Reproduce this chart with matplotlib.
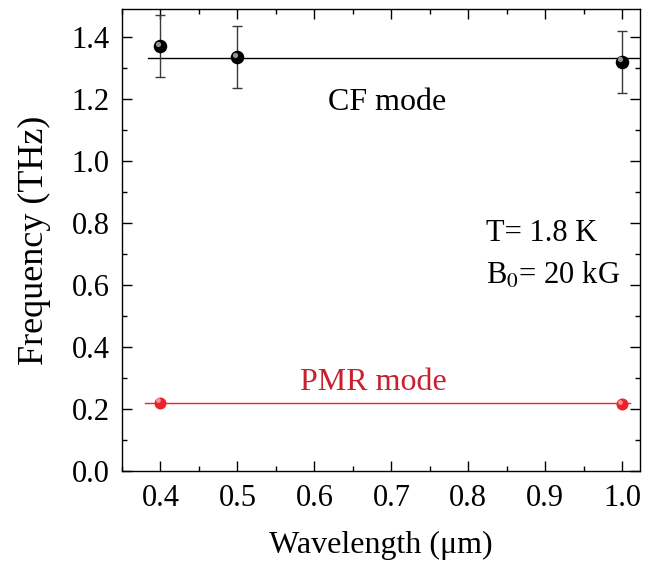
import matplotlib; matplotlib.use('agg'); import matplotlib.pyplot as plt
from matplotlib.ticker import MultipleLocator

plt.rcParams['font.family'] = ['Liberation Serif', 'DejaVu Serif']
plt.rcParams['mathtext.fontset'] = 'stix'

cf_x = [0.4, 0.5, 1.0]
cf_y = [1.37, 1.335, 1.32]
cf_err = [0.1, 0.1, 0.1]
cf_fit = 1.333

pmr_x = [0.4, 1.0]
pmr_y = [0.22, 0.215]
pmr_fit = 0.218

fig = plt.figure(figsize=(6.54, 5.62), dpi=100)
ax = fig.add_axes([122/654, 91/562, 518/654, 462/562])

ax.plot([0.384, 1.03], [cf_fit, cf_fit], '-', color='black', lw=1.0, zorder=1)
ax.plot([0.38, 1.01], [pmr_fit, pmr_fit], '-', color='#e8242c', lw=1.0, zorder=1)

ax.errorbar(cf_x, cf_y, yerr=cf_err, fmt='none', ecolor='#3a3a3a', elinewidth=1.0, capsize=3.5, capthick=1.0, zorder=2)

def spheres(x, y, dark, light, size):
    ax.scatter(x, y, s=size, color=dark, zorder=3, linewidths=0)
    xs = [v - 0.003 for v in x]
    ys = [v + 0.008 for v in y]
    ax.scatter(xs, ys, s=size*0.15, color=light, zorder=4, linewidths=0, alpha=0.8)

spheres(cf_x, cf_y, 'black', '#bbbbbb', 95)
spheres(pmr_x, pmr_y, '#e8242c', '#ffb0b0', 75)

ax.set_xlim(0.35, 1.023)
ax.set_ylim(0, 1.49)
ax.xaxis.set_major_locator(MultipleLocator(0.1))
ax.xaxis.set_minor_locator(MultipleLocator(0.05))
ax.yaxis.set_major_locator(MultipleLocator(0.2))
ax.yaxis.set_minor_locator(MultipleLocator(0.1))
ax.tick_params(which='both', direction='in', top=True, right=True, labelsize=22, width=1.0)
ax.tick_params(which='major', length=7, pad=9)
ax.tick_params(which='minor', length=3.5)
ax.set_xticks([0.4, 0.5, 0.6, 0.7, 0.8, 0.9, 1.0])
ax.set_xticklabels(['0.4', '0.5', '0.6', '0.7', '0.8', '0.9', '1.0'])
for sp in ax.spines.values():
    sp.set_linewidth(1.0)

ax.set_xlabel('Wavelength (\u03bcm)', fontsize=23, labelpad=13)
ax.set_ylabel('Frequency (THz)', fontsize=26, labelpad=15)

ax.text(0.694, 1.187, 'CF mode', fontsize=23, ha='center', va='center')
ax.text(0.677, 0.287, 'PMR mode', fontsize=23, ha='center', va='center', color='#c8202e')
ax.text(0.823, 0.765, 'T= 1.8 K', fontsize=22, ha='left', va='center')
ax.text(0.823, 0.63, 'B$_0$= 20 kG', fontsize=22, ha='left', va='center')

fig.savefig('out.png', dpi=100)
plt.close()
